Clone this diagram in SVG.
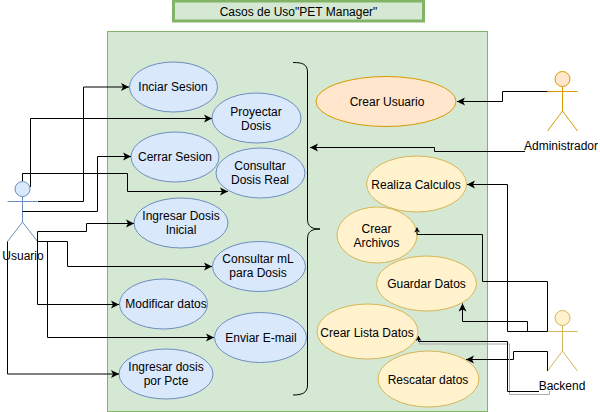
<svg xmlns="http://www.w3.org/2000/svg" width="600" height="412" viewBox="0 0 600 412">
<style>
text{font-family:"Liberation Sans",Arial,sans-serif;font-size:12px;fill:#000;text-anchor:middle}
.b{fill:#dae8fc;stroke:#6c8ebf}
.o{fill:#ffe6cc;stroke:#d79b00}
.y{fill:#fff2cc;stroke:#d6b656}
.c{fill:none;stroke:#000;stroke-width:1;marker-end:url(#a)}
.s{fill:none;stroke:#000;stroke-width:1;marker-end:url(#m)}
</style>
<defs>
<marker id="a" markerUnits="userSpaceOnUse" markerWidth="10" markerHeight="10" refX="8" refY="4.5" orient="auto"><path d="M0 0.5L8 4.5L0 8.5L2 4.5Z" fill="#000"/></marker>
<marker id="m" markerUnits="userSpaceOnUse" markerWidth="7" markerHeight="7" refX="5" refY="3" orient="auto"><path d="M0 0L5 3L0 6L1.500 3Z" fill="#000"/></marker>
</defs>
<rect width="600" height="412" fill="#fff"/>
<g id="title"><rect x="173.500" y="1" width="250" height="20" fill="#d5e8d4" stroke="#82b366" stroke-width="3"/><text x="298.500" y="15.500">Casos de Uso"PET Manager"</text></g>
<rect id="system" x="107.500" y="31.500" width="380" height="380" fill="#d5e8d4" stroke="#82b366"/>
<g id="brace"><path d="M293 62.500C302 62.500 307.500 64 307.500 72V219C307.500 226 311 229 320 229C311 229 307.500 232 307.500 239V385C307.500 393 302 395 293 395" fill="none" stroke="#000"/></g>
<g id="n1"><ellipse class="b" cx="173.500" cy="87" rx="44" ry="25"/><text x="173" y="91">Inciar Sesion</text></g>
<g id="n2"><ellipse class="b" cx="256.500" cy="118" rx="44.500" ry="25"/><text x="256" y="116">Proyectar</text><text x="256" y="130">Dosis</text></g>
<g id="n3"><ellipse class="b" cx="175" cy="157" rx="44" ry="25"/><text x="175" y="161">Cerrar Sesion</text></g>
<g id="n4"><ellipse class="b" cx="260.500" cy="173" rx="44.500" ry="25"/><text x="260" y="170">Consultar</text><text x="260" y="184">Dosis Real</text></g>
<g id="n5"><ellipse class="b" cx="181" cy="223" rx="47" ry="25"/><text x="181" y="220">Ingresar Dosis</text><text x="181" y="234">Inicial</text></g>
<g id="n6"><ellipse class="b" cx="259" cy="266.500" rx="46.500" ry="25"/><text x="258" y="263">Consultar mL</text><text x="258" y="277">para Dosis</text></g>
<g id="n7"><ellipse class="b" cx="163.500" cy="304" rx="44" ry="25"/><text x="166" y="308">Modificar datos</text></g>
<g id="n8"><ellipse class="b" cx="260.500" cy="337.500" rx="46" ry="25"/><text x="261" y="342">Enviar E-mail</text></g>
<g id="n9"><ellipse class="b" cx="166" cy="374" rx="47" ry="25"/><text x="166" y="371">Ingresar dosis</text><text x="166" y="385">por Pcte</text></g>
<g id="n10"><ellipse class="o" cx="386" cy="101.500" rx="70" ry="25"/><text x="387" y="106">Crear Usuario</text></g>
<g id="n11"><ellipse class="y" cx="416.500" cy="184" rx="50" ry="28"/><text x="416" y="189">Realiza Calculos</text></g>
<g id="n12"><ellipse class="y" cx="377" cy="235" rx="40" ry="28"/><text x="376.500" y="233">Crear</text><text x="376.500" y="247">Archivos</text></g>
<g id="n13"><ellipse class="y" cx="426.500" cy="283.500" rx="50" ry="27.500"/><text x="426.500" y="288">Guardar Datos</text></g>
<g id="n14"><ellipse class="y" cx="367.500" cy="331.500" rx="50.500" ry="27.500"/><text x="367" y="337">Crear Lista Datos</text></g>
<g id="n15"><ellipse class="y" cx="428.500" cy="379" rx="50.500" ry="28"/><text x="428" y="384">Rescatar datos</text></g>
<g id="usuario"><g class="b"><circle cx="22.500" cy="189" r="7.500"/><path d="M22.500 196.500V222M7.500 201.500H37.500M7.500 241.500L22.500 222L37.500 241.500" fill="none"/></g><text x="23" y="260">Usuario</text></g>
<g id="administrador"><g class="o"><circle cx="562.500" cy="79" r="7.500"/><path d="M562.500 86.500V111M547.500 91.500H577.500M547.500 131L562.500 111L577.500 131" fill="none"/></g><text x="561" y="150">Administrador</text></g>
<g id="backend"><g class="y"><circle cx="562.500" cy="318" r="7.500"/><path d="M562.500 325.500V351M547.500 331.500H577.500M547.500 371L562.500 351L577.500 371" fill="none"/></g><text x="562" y="390">Backend</text></g>
<g id="connectors">
<path class="c" d="M38 201.500H83.500V87H129"/>
<path class="c" d="M30.500 187V118.500H212"/>
<path class="c" d="M22.500 211.500H97.500V156.500H131"/>
<path class="c" d="M22.500 181V173.500H127.500V191.500H228"/>
<path class="c" d="M37.500 241V231.500H86.500V223.500H134"/>
<path class="c" d="M37.500 241.500H67.500V266.500H212"/>
<path class="c" d="M37.500 241V304.500H119"/>
<path class="c" d="M37.500 241.500H47.500V337.500H214"/>
<path class="c" d="M7.500 241.500V374H119"/>
<path class="c" d="M547.500 91.500H502.500V101.500H457"/>
<path class="c" d="M525 151.500H434.500V147.500H310"/>
<path class="c" d="M547.500 331.500H507.500V184.500H467"/>
<path class="s" d="M547.500 331.500V281.500H482.500V234.500H417V227.500"/>
<path class="c" d="M527.500 331.500V321.500H462.500V303.500"/>
<path class="c" d="M547.500 371V351.500H513.500V359.500H466"/>
<path d="M549.500 391V394.500H509.500V344H419.500V338" fill="none" stroke="#aaa"/>
<path class="s" d="M539 391.500H507.500V341.500H418.500V336"/>
</g>
</svg>
